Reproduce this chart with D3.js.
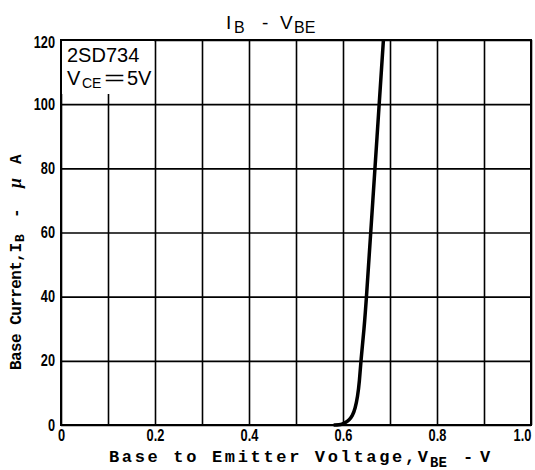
<!DOCTYPE html>
<html>
<head>
<meta charset="utf-8">
<script src="https://cdn.jsdelivr.net/npm/d3@7"></script>
<style>
  body { margin: 0; background: #fff; }
  svg { display: block; }
</style>
</head>
<body>
<div id="chart"></div>
<script>
// I_B - V_BE curve, 2SD734 at V_CE = 5V
var vbe = [0.580, 0.592, 0.599, 0.606, 0.613, 0.620, 0.626, 0.631, 0.635, 0.638, 0.645, 0.650, 0.659, 0.668, 0.677, 0.686];
var ib  = [0,     0,     0.3,   0.8,   1.6,   2.8,   5.2,   8.8,   13.5,  20,    30,    40,    60,    80,    100,   120];
var xTicks = [0, 0.1, 0.2, 0.3, 0.4, 0.5, 0.6, 0.7, 0.8, 0.9, 1.0];
var xLabels = ["0", "", "0.2", "", "0.4", "", "0.6", "", "0.8", "", "1.0"];
var yTicks = [0, 20, 40, 60, 80, 100, 120];

var width = 535, height = 470;
var pLeft = 61, pRight = 531, pTop = 40, pBottom = 425;

var x = d3.scaleLinear().domain([0, 1]).range([pLeft, pRight]);
var y = d3.scaleLinear().domain([0, 120]).range([pBottom, pTop]);

var svg = d3.select("#chart").append("svg")
	.attr("width", width)
	.attr("height", height);

// Grid + x labels
var gx = svg.append("g")
	.attr("transform", "translate(0," + pBottom + ")")
	.call(d3.axisBottom(x)
		.tickValues(xTicks)
		.tickSize(-(pBottom - pTop))
		.tickPadding(5)
		.tickFormat(function(d, i){ return xLabels[i]; }));
gx.select(".domain").remove();
gx.selectAll("line").attr("stroke", "#000").attr("stroke-width", 1.6);
gx.selectAll("text")
	.attr("fill", "#000")
	.style("font-family", "'Liberation Sans', Arial, sans-serif")
	.style("font-weight", "bold")
	.style("font-size", "16px")
	.attr("transform", "scale(0.8,1)");
// keep the last label inside the picture
gx.selectAll("text").filter(function(d){ return d === 1; }).attr("x", -9 / 0.8);

// Grid + y labels
var gy = svg.append("g")
	.attr("transform", "translate(" + pLeft + ",0)")
	.call(d3.axisLeft(y)
		.tickValues(yTicks)
		.tickSize(-(pRight - pLeft))
		.tickFormat(d3.format("d")));
gy.select(".domain").remove();
gy.selectAll("line").attr("stroke", "#000").attr("stroke-width", 1.6);
gy.selectAll("text")
	.attr("fill", "#000")
	.attr("x", -6 / 0.75)
	.attr("dy", "0.3em")
	.style("font-family", "'Liberation Sans', Arial, sans-serif")
	.style("font-weight", "bold")
	.style("font-size", "17px")
	.attr("transform", "scale(0.75,1)");
gy.selectAll("text").filter(function(d){ return d === 120; }).attr("dy", "0.45em");

// Legend box covers the grid
svg.append("rect")
	.attr("x", pLeft + 1).attr("y", pTop + 1)
	.attr("width", x(0.2) - pLeft - 2).attr("height", 53)
	.attr("fill", "#fff");

var leg = svg.append("g")
	.style("font-family", "'Liberation Sans', Arial, sans-serif")
	.attr("fill", "#000");
leg.append("text").attr("x", 67).attr("y", 62).style("font-size", "20px").text("2SD734");
var l2 = leg.append("text").attr("y", 85).style("font-size", "20px");
l2.append("tspan").attr("x", 67).text("V");
l2.append("tspan").attr("x", 82).attr("dy", 3).style("font-size", "14px").text("CE");
l2.append("tspan").attr("x", 104).attr("dy", -3).attr("textLength", 21).attr("lengthAdjust", "spacingAndGlyphs").text("=");
l2.append("tspan").attr("x", 127).text("5V");

// Frame
svg.append("rect")
	.attr("x", pLeft).attr("y", pTop)
	.attr("width", pRight - pLeft).attr("height", pBottom - pTop)
	.attr("fill", "none")
	.attr("stroke", "#000")
	.attr("stroke-width", 2);

// Curve
var pts = vbe.map(function(v, i){ return [v, ib[i]]; });
var line = d3.line()
	.x(function(d){ return x(d[0]); })
	.y(function(d){ return y(d[1]); })
	.curve(d3.curveBasis);
svg.append("path")
	.datum(pts)
	.attr("d", line)
	.attr("fill", "none")
	.attr("stroke", "#000")
	.attr("stroke-width", 3.5)
	.attr("stroke-linejoin", "round");

// Title
var title = svg.append("text")
	.attr("y", 29)
	.attr("fill", "#000")
	.style("font-family", "'Liberation Sans', Arial, sans-serif")
	.style("font-size", "19px");
title.append("tspan").attr("x", 226).text("I");
title.append("tspan").attr("x", 234).attr("dy", 4).style("font-size", "16px").text("B");
title.append("tspan").attr("x", 262).attr("dy", -4).text("-");
title.append("tspan").attr("x", 280).text("V");
title.append("tspan").attr("x", 294).attr("dy", 4).style("font-size", "16px").text("BE");

// Axis titles
var mono = "'Liberation Mono', 'Courier New', monospace";
var xt = svg.append("g")
	.attr("fill", "#000")
	.style("font-family", mono)
	.style("font-weight", "bold");
xt.append("text").attr("x", 109).attr("y", 462).style("font-size", "17px")
	.attr("textLength", 319).attr("lengthAdjust", "spacing")
	.text("Base to Emitter Voltage,V");
xt.append("text").attr("x", 430).attr("y", 467).style("font-size", "14px").text("BE");
xt.append("text").attr("x", 463).attr("y", 462).style("font-size", "17px").text("-");
xt.append("text").attr("x", 480).attr("y", 462).style("font-size", "17px").text("V");

var yt = svg.append("g")
	.attr("transform", "translate(21,370) rotate(-90)")
	.attr("fill", "#000")
	.style("font-family", mono)
	.style("font-weight", "bold");
yt.append("text").attr("x", 0).attr("y", 0).style("font-size", "16px")
	.attr("textLength", 127).attr("lengthAdjust", "spacing")
	.text("Base Current,I");
yt.append("text").attr("x", 128).attr("y", 3).style("font-size", "13px").text("B");
yt.append("text").attr("x", 152).attr("y", 0).style("font-size", "16px").text("-");
yt.append("text").attr("x", 182).attr("y", 0).style("font-size", "18px")
	.style("font-family", "'Liberation Serif', serif").style("font-style", "italic").text("μ");
yt.append("text").attr("x", 206).attr("y", 0).style("font-size", "16px").text("A");
</script>
</body>
</html>
